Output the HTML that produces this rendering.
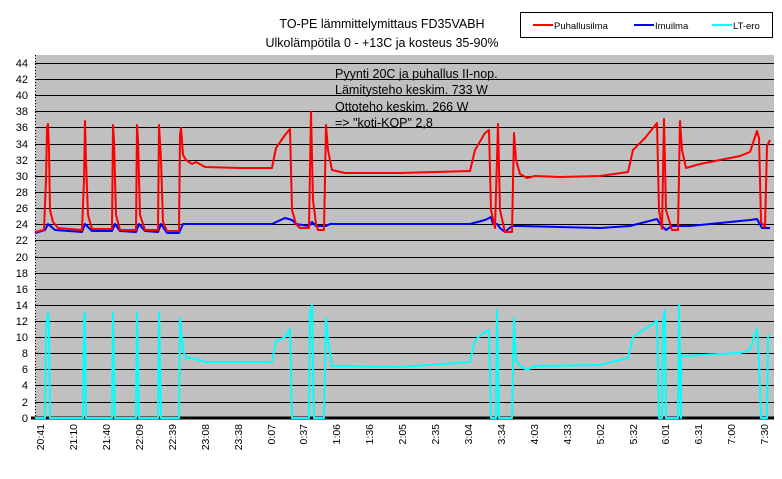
<!DOCTYPE html>
<html><head><meta charset="utf-8"><style>
body{margin:0;background:#fff;}
svg{display:block;font-family:"Liberation Sans",Arial,sans-serif;}
</style></head><body>
<svg width="782" height="479" viewBox="0 0 782 479">
<rect x="0" y="0" width="782" height="479" fill="#fff"/>
<text x="382" y="28" font-size="12.5" text-anchor="middle">TO-PE lämmittelymittaus FD35VABH</text>
<text x="382" y="47" font-size="12.5" text-anchor="middle">Ulkolämpötila 0 - +13C ja kosteus 35-90%</text>
<rect x="520.5" y="12.5" width="252" height="25" fill="#fff" stroke="#000" stroke-width="1"/>
<line x1="533" y1="25" x2="553" y2="25" stroke="#f00" stroke-width="2"/>
<text x="554" y="29" font-size="9.5">Puhallusilma</text>
<line x1="634" y1="25" x2="654" y2="25" stroke="#00f" stroke-width="2"/>
<text x="655" y="29" font-size="9.5">Imuilma</text>
<line x1="712" y1="25" x2="732" y2="25" stroke="#0ff" stroke-width="2"/>
<text x="733" y="29" font-size="9.5">LT-ero</text>
<rect x="35" y="55" width="739" height="363" fill="#c0c0c0"/>
<g stroke="#000" stroke-width="1">
<line x1="35" y1="63.5" x2="774" y2="63.5"/><line x1="35" y1="79.5" x2="774" y2="79.5"/><line x1="35" y1="95.5" x2="774" y2="95.5"/><line x1="35" y1="111.5" x2="774" y2="111.5"/><line x1="35" y1="127.5" x2="774" y2="127.5"/><line x1="35" y1="144.5" x2="774" y2="144.5"/><line x1="35" y1="160.5" x2="774" y2="160.5"/><line x1="35" y1="176.5" x2="774" y2="176.5"/><line x1="35" y1="192.5" x2="774" y2="192.5"/><line x1="35" y1="208.5" x2="774" y2="208.5"/><line x1="35" y1="224.5" x2="774" y2="224.5"/><line x1="35" y1="240.5" x2="774" y2="240.5"/><line x1="35" y1="257.5" x2="774" y2="257.5"/><line x1="35" y1="273.5" x2="774" y2="273.5"/><line x1="35" y1="289.5" x2="774" y2="289.5"/><line x1="35" y1="305.5" x2="774" y2="305.5"/><line x1="35" y1="321.5" x2="774" y2="321.5"/><line x1="35" y1="337.5" x2="774" y2="337.5"/><line x1="35" y1="353.5" x2="774" y2="353.5"/><line x1="35" y1="369.5" x2="774" y2="369.5"/><line x1="35" y1="385.5" x2="774" y2="385.5"/><line x1="35" y1="402.5" x2="774" y2="402.5"/>
<line x1="35.5" y1="55" x2="35.5" y2="418" stroke-dasharray="1,2"/>
</g>
<line x1="31" y1="418" x2="774" y2="418" stroke="#000" stroke-width="3"/>
<g font-size="11" text-anchor="end">
<text x="28" y="67">44</text><text x="28" y="83">42</text><text x="28" y="99">40</text><text x="28" y="115">38</text><text x="28" y="131">36</text><text x="28" y="148">34</text><text x="28" y="164">32</text><text x="28" y="180">30</text><text x="28" y="196">28</text><text x="28" y="212">26</text><text x="28" y="228">24</text><text x="28" y="244">22</text><text x="28" y="261">20</text><text x="28" y="277">18</text><text x="28" y="293">16</text><text x="28" y="309">14</text><text x="28" y="325">12</text><text x="28" y="341">10</text><text x="28" y="357">8</text><text x="28" y="373">6</text><text x="28" y="389">4</text><text x="28" y="406">2</text><text x="28" y="422">0</text>
</g>
<g font-size="10.5" text-anchor="end">
<text transform="translate(44,424) rotate(-90)">20:41</text><text transform="translate(77,424) rotate(-90)">21:10</text><text transform="translate(110,424) rotate(-90)">21:40</text><text transform="translate(143,424) rotate(-90)">22:09</text><text transform="translate(176,424) rotate(-90)">22:39</text><text transform="translate(209,424) rotate(-90)">23:08</text><text transform="translate(242,424) rotate(-90)">23:38</text><text transform="translate(275,424) rotate(-90)">0:07</text><text transform="translate(307,424) rotate(-90)">0:37</text><text transform="translate(340,424) rotate(-90)">1:06</text><text transform="translate(373,424) rotate(-90)">1:36</text><text transform="translate(406,424) rotate(-90)">2:05</text><text transform="translate(439,424) rotate(-90)">2:35</text><text transform="translate(472,424) rotate(-90)">3:04</text><text transform="translate(505,424) rotate(-90)">3:34</text><text transform="translate(538,424) rotate(-90)">4:03</text><text transform="translate(571,424) rotate(-90)">4:33</text><text transform="translate(604,424) rotate(-90)">5:02</text><text transform="translate(637,424) rotate(-90)">5:32</text><text transform="translate(669,424) rotate(-90)">6:01</text><text transform="translate(702,424) rotate(-90)">6:31</text><text transform="translate(735,424) rotate(-90)">7:00</text><text transform="translate(768,424) rotate(-90)">7:30</text>
</g>
<g font-size="12.5">
<text x="335" y="78">Pyynti 20C ja puhallus II-nop.</text>
<text x="335" y="94">Lämitysteho keskim.  733 W</text>
<text x="335" y="111">Ottoteho keskim. 266 W</text>
<text x="335" y="127">=&gt; "koti-KOP" 2,8</text>
</g>
<g fill="none" stroke-width="2" stroke-linejoin="round">
<polyline stroke="#0ff" points="35,418 45,418 46,330 48,313 49,330 50,418 83,418 84,320 85,313 86,418 112,418 113,313 115,418 136,418 137,313 139,418 158,418 159,313 161,418 179,418 180,318 183,350 186,358 192,358 205,362 240,362 272,362 276,341 285,337 290,329 292,418 309,418 310,314 312,305 314,418 324,418 326,318 328,340 332,366 400,367 470,362 475,340 485,332 489,330 491,418 496,418 497,310 499,418 512,418 514,318 516,360 520,366 527,370 535,366 600,365 628,358 633,337 645,329 657,321 659,418 662,418 663,320 665,310 666,418 678,418 679,305 681,418 681,355 686,356 700,355 740,353 750,350 754,337 757,329 759,360 761,418 767,418 768,337 770,335"/>
<polyline stroke="#00f" points="35,233 45,230 48,224 55,230 82,232 85,224 92,231 112,231 115,224 120,231 136,232 139,224 145,231 158,232 161,224 167,233 179,233 183,224 272,224 285,218 292,220 296,224 309,226 312,222 316,226 326,226 330,224 470,224 485,220 491,217 493,224 497,224 500,228 505,232 512,226 520,226 600,228 630,226 657,219 660,224 666,230 672,226 680,226 690,226 750,220 757,219 762,228 770,228"/>
<polyline stroke="#f00" points="35,232 44,230 46,180 47,128 48,124 49,150 50,210 53,222 58,228 82,230 84,180 85,121 86,160 88,215 92,229 112,229 113,125 114,140 116,215 120,230 136,230 137,125 138,140 140,215 145,230 158,230 159,125 161,160 163,222 167,231 179,231 180,135 181,128 183,155 186,160 192,164 196,162 205,167 240,168 272,168 276,148 285,135 290,129 292,210 296,224 300,228 309,228 311,112 313,200 316,224 318,230 324,230 326,125 328,150 332,170 345,173 400,173 470,171 475,150 485,133 489,130 491,210 495,228 498,124 500,210 505,232 512,232 514,133 516,160 520,174 527,178 535,176 560,177 600,176 628,172 633,150 645,138 657,123 659,210 662,229 664,119 666,210 672,230 678,230 680,121 682,150 686,168 700,164 740,156 750,152 754,140 757,131 759,138 761,222 765,227 767,146 770,140"/>
</g>
</svg>
</body></html>
